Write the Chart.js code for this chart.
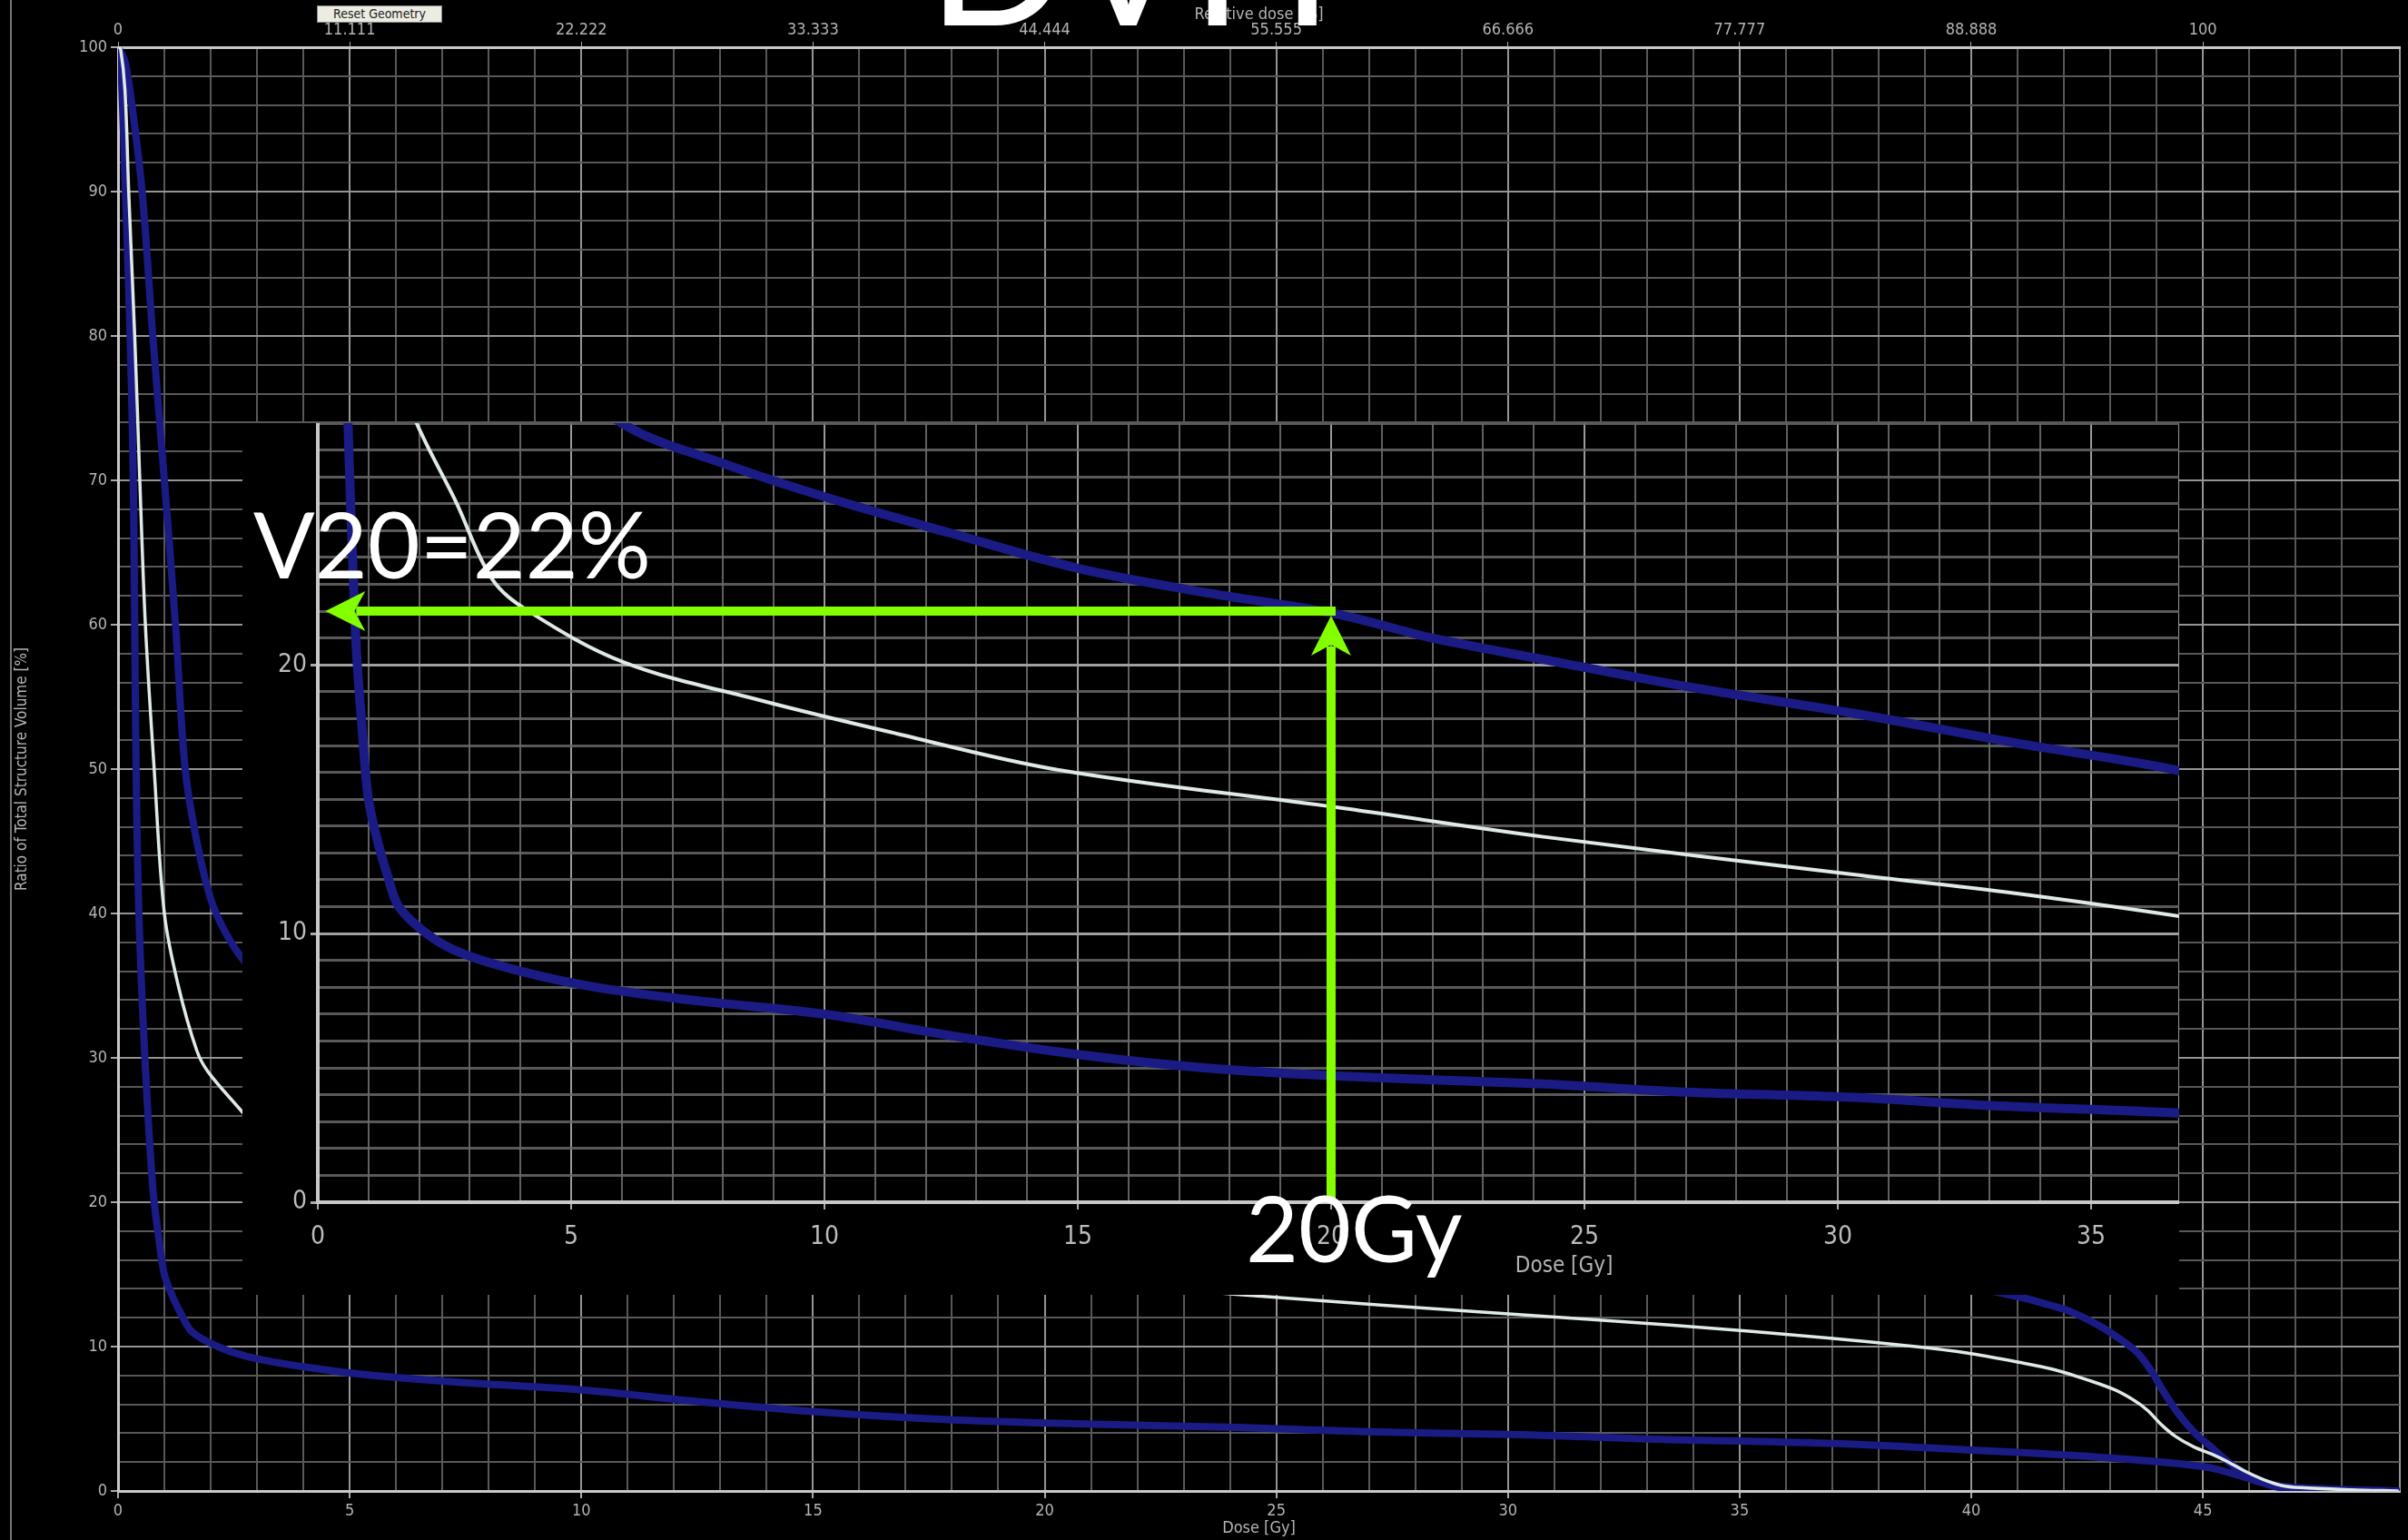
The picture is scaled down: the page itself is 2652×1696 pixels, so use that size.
<!DOCTYPE html>
<html>
<head>
<meta charset="utf-8">
<script src="https://cdn.jsdelivr.net/npm/chart.js@4.4.1/dist/chart.umd.min.js"></script>
<style>
  html, body { margin: 0; padding: 0; background: #000; }
  #wrap { position: relative; width: 2652px; height: 1696px; overflow: hidden; background: #000; }
  #mainChart { position: absolute; left: 0; top: 0; }
  #insetBox { position: absolute; left: 267px; top: 466px; width: 2133px; height: 960px; background: #000; }
  #insetChart { position: absolute; left: 0; top: 0; }
  #resetBtn {
    position: absolute; left: 349px; top: 6px; width: 138px; height: 19px;
    background: #ecece2; border: 1px solid #888; color: #222; padding: 0;
    font: 14px 'DejaVu Sans Condensed', 'Liberation Sans Narrow', sans-serif; line-height: 17px;
  }
</style>
</head>
<body>
<div id="wrap">
  <canvas id="mainChart" width="2652" height="1696"></canvas>
  <div id="insetBox"><canvas id="insetChart" width="2133" height="960"></canvas></div>
  <button id="resetBtn">Reset Geometry</button>
</div>
<script>
// DVH curves, dose in Gy / volume in %
const whiteDose = [0, 0.05, 0.15, 0.23, 0.36, 0.47, 0.59, 0.78, 1.0, 1.3, 1.7, 1.95, 2.72, 3.44, 4.16, 6.04, 8.7, 11.3, 14.6, 20.1, 24.2, 30.3, 33.5, 36.9, 38.8, 39.9, 41.0, 41.8, 42.5, 43.1, 43.5, 43.8, 44.1, 44.4, 44.8, 45.2, 45.55, 45.9, 46.3, 46.7, 47.1, 48.2, 49.2];
const whiteVol  = [100, 100, 97, 90, 80, 70, 60, 50, 40, 35, 30.5, 29, 26.1, 23.2, 22.0, 20.1, 18.7, 17.5, 16.1, 14.7, 13.6, 12.2, 11.5, 10.6, 10.0, 9.56, 8.93, 8.4, 7.7, 7.0, 6.3, 5.6, 4.6, 3.8, 3.06, 2.54, 2.0, 1.38, 0.8, 0.38, 0.23, 0.08, 0];

const upperDose = [0, 0.15, 0.3, 0.52, 0.75, 1.0, 1.24, 1.45, 1.7, 2.0, 2.3, 2.7, 3.5, 4.5, 6.0, 8.0, 10.1, 12.5, 15.0, 17.5, 20.1, 22.0, 24.2, 27.0, 30.3, 33.5, 36.9, 38.8, 40.9, 41.56, 42.16, 42.76, 43.22, 43.59, 43.89, 44.12, 44.42, 44.8, 45.17, 45.55, 45.93, 46.3, 46.68, 47.43, 49.2];
const upperVol  = [100, 99, 96, 90, 80, 70, 60, 50, 45, 41, 38.8, 36.8, 34.0, 31.6, 29.0, 27.5, 26.2, 24.9, 23.6, 22.7, 21.9, 21.0, 20.2, 19.2, 18.2, 17.1, 16.0, 14.9, 13.54, 13.0, 12.4, 11.45, 10.5, 9.56, 8.3, 7.04, 5.58, 4.11, 3.06, 2.01, 1.17, 0.65, 0.34, 0.17, 0];

const lowerDose = [0, 0.05, 0.16, 0.26, 0.33, 0.36, 0.39, 0.45, 0.58, 0.75, 0.88, 1.0, 1.2, 1.37, 1.6, 2.15, 2.8, 4.0, 5.5, 7.5, 10.0, 12.5, 15.0, 17.5, 20.1, 24.2, 27.0, 30.3, 33.0, 36.9, 39.9, 42.16, 43.67, 44.42, 45.17, 45.78, 46.3, 46.68, 47.43, 49.2];
const lowerVol  = [100, 99.5, 90, 80, 70, 60, 50, 40, 30, 21, 17.5, 15, 13.3, 12.2, 11.0, 10.0, 9.3, 8.6, 8.0, 7.5, 7.0, 6.2, 5.5, 5.0, 4.7, 4.4, 4.1, 3.9, 3.6, 3.3, 2.85, 2.47, 2.12, 1.91, 1.6, 1.07, 0.55, 0.23, 0.1, 0];

// axes
const prescriptionGy = 45;
const mainDoseMax = 49.25;
const insetDoseMax = 36.74;
const insetVolMax = 29.0;
const relTickLabels = ['0', '11.111', '22.222', '33.333', '44.444', '55.555', '66.666', '77.777', '88.888', '100'];

// V20 readout
const v20Dose = 20;
const v20Volume = 22;
const arrowTipDose = 0.15;

const WHITE = '#dfe9e5';
const BLUE = '#1b1b86';
const GREEN = '#84ff00';
const smallFont = "'DejaVu Sans Condensed', 'Liberation Sans Narrow', 'DejaVu Sans', sans-serif";
const bigFont = "Lato, 'Open Sans', sans-serif";

function toPoints(dose, vol) {
  return dose.map((d, i) => ({ x: d, y: vol[i] }));
}

function makeDatasets(blueWidth, whiteWidth) {
  return [
    { label: 'white', data: toPoints(whiteDose, whiteVol), borderColor: WHITE, borderWidth: whiteWidth },
    { label: 'upper', data: toPoints(upperDose, upperVol), borderColor: BLUE, borderWidth: blueWidth },
    { label: 'lower', data: toPoints(lowerDose, lowerVol), borderColor: BLUE, borderWidth: blueWidth }
  ].map(ds => Object.assign(ds, { pointRadius: 0, tension: 0.35, fill: false, borderCapStyle: 'round', borderJoinStyle: 'round' }));
}

function gridColor(step, bright, dim, max) {
  return (c) => {
    if (!c.tick) return dim;
    const v = c.tick.value;
    if (Math.abs(v - max) < 1e-6) return bright;
    return Math.abs(v % step) < 1e-6 ? bright : dim;
  };
}

function fixBox(size, isWidth) {
  return (s) => {
    if (isWidth) s.width = size; else s.height = size;
    s.paddingTop = 0; s.paddingBottom = 0; s.paddingLeft = 0; s.paddingRight = 0;
  };
}

const mainDecor = {
  id: 'mainDecor',
  afterDraw(chart) {
    const { ctx } = chart;
    ctx.save();
    ctx.fillStyle = '#777';
    ctx.fillRect(11, 0, 2, chart.height);
    ctx.fillStyle = '#fff';
    ctx.font = '205px ' + bigFont;
    ctx.textAlign = 'center';
    ctx.textBaseline = 'alphabetic';
    ctx.fillText('DVH', 1245, 28);
    ctx.restore();
  }
};

new Chart(document.getElementById('mainChart'), {
  type: 'line',
  data: { datasets: makeDatasets(8, 3.5) },
  plugins: [mainDecor],
  options: {
    responsive: false,
    animation: false,
    layout: { padding: { left: 0, right: 9, top: 0, bottom: 0 } },
    plugins: { legend: { display: false }, tooltip: { enabled: false } },
    scales: {
      x: {
        type: 'linear', position: 'bottom', min: 0, max: mainDoseMax,
        afterFit: fixBox(54, false),
        grid: { color: gridColor(5, '#949494', '#585858', mainDoseMax), lineWidth: 2, tickLength: 8,
                tickColor: (c) => c.tick && c.tick.value % 5 === 0 ? '#aaa' : 'transparent' },
        border: { color: '#c8c8c8', width: 3 },
        ticks: { stepSize: 1, autoSkip: false, maxRotation: 0, padding: 4, color: '#b4b4b4',
                 font: { family: smallFont, size: 18 },
                 callback: (v) => v % 5 === 0 ? String(v) : '' },
        title: { display: true, text: 'Dose [Gy]', color: '#b4b4b4', font: { family: smallFont, size: 18 },
                 padding: { top: 0, bottom: 2 } }
      },
      x2: {
        type: 'linear', position: 'top', min: 0, max: mainDoseMax / prescriptionGy * 100,
        afterFit: fixBox(52, false),
        afterBuildTicks: (s) => { s.ticks = relTickLabels.map(l => ({ value: Number(l) })); },
        grid: { drawOnChartArea: false, tickLength: 6, tickColor: '#aaa' },
        border: { color: '#c8c8c8', width: 3 },
        ticks: { autoSkip: false, maxRotation: 0, padding: 2, color: '#b4b4b4',
                 font: { family: smallFont, size: 18 },
                 callback: (v, i) => relTickLabels[i] },
        title: { display: true, text: 'Relative dose [%]', color: '#b4b4b4', font: { family: smallFont, size: 18 },
                 padding: { top: 6, bottom: 0 } }
      },
      y: {
        type: 'linear', min: 0, max: 100,
        afterFit: fixBox(130, true),
        grid: { color: gridColor(10, '#949494', '#585858', 100), lineWidth: 2, tickLength: 8,
                tickColor: (c) => c.tick && c.tick.value % 10 === 0 ? '#aaa' : 'transparent' },
        border: { color: '#c8c8c8', width: 3 },
        ticks: { stepSize: 2, autoSkip: false, padding: 4, color: '#b4b4b4',
                 font: { family: smallFont, size: 18 },
                 callback: (v) => v % 10 === 0 ? String(v) : '' },
        title: { display: true, text: 'Ratio of Total Structure Volume [%]', color: '#b4b4b4',
                 font: { family: smallFont, size: 17 }, padding: { top: 14, bottom: 0 } }
      }
    }
  }
});

function arrowHead(ctx, tx, ty, dx, dy) {
  const len = 44, half = 22, notch = 32;
  const nx = -dy, ny = dx;
  ctx.beginPath();
  ctx.moveTo(tx, ty);
  ctx.lineTo(tx - dx * len + nx * half, ty - dy * len + ny * half);
  ctx.lineTo(tx - dx * notch, ty - dy * notch);
  ctx.lineTo(tx - dx * len - nx * half, ty - dy * len - ny * half);
  ctx.closePath();
  ctx.fill();
}

const insetAnnot = {
  id: 'insetAnnot',
  afterDraw(chart) {
    const { ctx } = chart;
    const x = chart.scales.x, y = chart.scales.y;
    const px = x.getPixelForValue(v20Dose);
    const py = y.getPixelForValue(v20Volume);
    const tipX = x.getPixelForValue(arrowTipDose);
    const baseY = y.getPixelForValue(0);
    ctx.save();
    ctx.fillStyle = '#b4b4b4';
    ctx.font = '24px ' + smallFont;
    ctx.textAlign = 'center';
    ctx.textBaseline = 'middle';
    ctx.fillText('Dose [Gy]', x.getPixelForValue(24.6), baseY + 71);

    ctx.strokeStyle = GREEN;
    ctx.fillStyle = GREEN;
    ctx.lineWidth = 10;
    ctx.beginPath();
    ctx.moveTo(px + 5, py);
    ctx.lineTo(tipX + 34, py);
    ctx.stroke();
    arrowHead(ctx, tipX, py, -1, 0);
    ctx.beginPath();
    ctx.moveTo(px, baseY);
    ctx.lineTo(px, py + 5 + 34);
    ctx.stroke();
    arrowHead(ctx, px, py + 5, 0, -1);

    ctx.fillStyle = '#fff';
    ctx.font = '100px ' + bigFont;
    ctx.textAlign = 'left';
    ctx.textBaseline = 'alphabetic';
    ctx.fillText('V20=22%', x.getPixelForValue(0) - 71, py - 36);
    ctx.fillText('20Gy', px - 94, baseY + 66);
    ctx.restore();
  }
};

new Chart(document.getElementById('insetChart'), {
  type: 'line',
  data: { datasets: makeDatasets(10, 4) },
  plugins: [insetAnnot],
  options: {
    responsive: false,
    animation: false,
    layout: { padding: 0 },
    plugins: { legend: { display: false }, tooltip: { enabled: false } },
    scales: {
      x: {
        type: 'linear', min: 0, max: insetDoseMax,
        afterFit: fixBox(102, false),
        grid: { color: gridColor(5, '#9a9a9a', '#606060', insetDoseMax), lineWidth: 2, tickLength: 8,
                tickColor: (c) => c.tick && c.tick.value % 5 === 0 ? '#aaa' : 'transparent' },
        border: { color: '#c8c8c8', width: 4 },
        ticks: { stepSize: 1, autoSkip: false, maxRotation: 0, padding: 14, color: '#bcbcbc',
                 font: { family: smallFont, size: 28 },
                 callback: (v) => v % 5 === 0 ? String(v) : '' }
      },
      y: {
        type: 'linear', min: 0, max: insetVolMax,
        afterFit: fixBox(83, true),
        grid: { color: gridColor(10, '#a0a0a0', 'rgba(105,105,105,0.85)', -1), lineWidth: 3, tickLength: 8,
                tickColor: (c) => c.tick && c.tick.value % 10 === 0 ? '#aaa' : 'transparent' },
        border: { color: '#c8c8c8', width: 4 },
        ticks: { stepSize: 1, autoSkip: false, padding: 4, color: '#bcbcbc',
                 font: { family: smallFont, size: 28 },
                 callback: (v) => v % 10 === 0 ? String(v) : '' }
      }
    }
  }
});
</script>
</body>
</html>
